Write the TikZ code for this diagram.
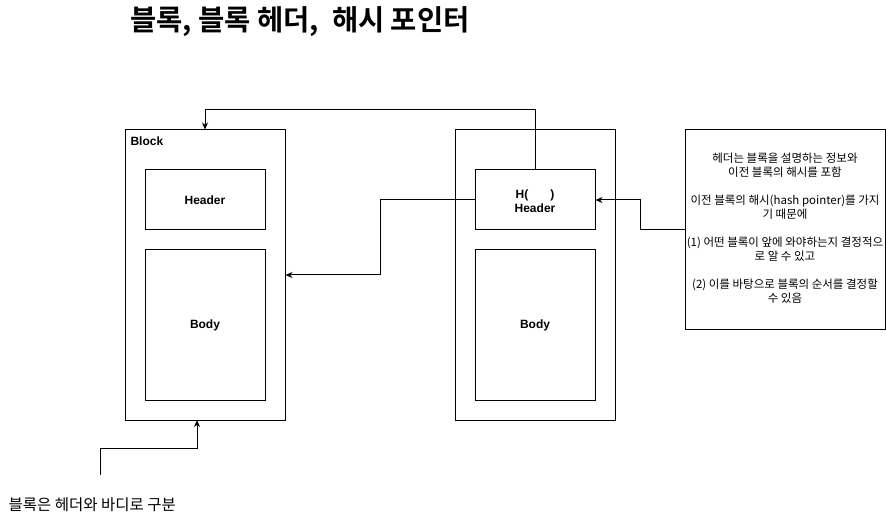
\documentclass[tikz,border=0pt]{standalone}
\usepackage{fontspec}
\setmainfont{Liberation Sans}
\newfontfamily\cjk{Noto Sans CJK KR}[BoldFont=* Bold]
\usetikzlibrary{arrows.meta}
\begin{document}
\begin{tikzpicture}[x=1pt,y=-1pt,
  lbl/.style={font=\bfseries\fontsize{12}{14}\selectfont,align=center},
  conn/.style={draw=black,line width=1pt,-{Stealth[length=7pt,width=6pt]}}]
\useasboundingbox (0,0) rectangle (886,526);
% title
\node[font=\cjk\bfseries\fontsize{28.5}{32}\selectfont] (title) at (300,22) {블록, 블록 헤더,\ \ 해시 포인터};
% block 1
\node[draw,line width=1pt,minimum width=160pt,minimum height=290pt,inner sep=0] (b1) at (205,275) {};
\node[lbl,anchor=west] (b1l) at (127,141) {Block};
\node[draw,line width=1pt,minimum width=120pt,minimum height=60pt,inner sep=0,lbl] (h1) at (205,200) {Header};
\node[draw,line width=1pt,minimum width=120pt,minimum height=150pt,inner sep=0,lbl] (bd1) at (205,325) {Body};
% block 2
\node[draw,line width=1pt,minimum width=160pt,minimum height=290pt,inner sep=0] (b2) at (535,275) {};
\node[draw,line width=1pt,minimum width=120pt,minimum height=60pt,inner sep=0] (h2) at (535,200) {};
\node[lbl] (h2t) at (535,201) {H(\hspace{22pt})\\Header};
\node[draw,line width=1pt,minimum width=120pt,minimum height=150pt,inner sep=0,lbl] (bd2) at (535,325) {Body};
% note
\node[draw,line width=1pt,minimum width=200pt,minimum height=200pt,inner sep=0] (note) at (785,230) {};
\node[font=\cjk\fontsize{11.5}{14}\selectfont,align=center] (nt) at (785,228) {헤더는 블록을 설명하는 정보와\\이전 블록의 해시를 포함\\[14pt]이전 블록의 해시(hash pointer)를 가지\\기 때문에\\[14pt](1) 어떤 블록이 앞에 와야하는지 결정적으\\로 알 수 있고\\[14pt](2) 이를 바탕으로 블록의 순서를 결정할\\수 있음};
% bottom label
\node[font=\cjk\fontsize{15.5}{18}\selectfont,anchor=west] (bl) at (5,505) {블록은 헤더와 바디로 구분};
\coordinate (bs) at (100,475);
% connectors
\draw[conn] (h2.north) -- (535,110) -- (205,110) -- (b1.north);
\draw[conn] (h2.west) -- (380,200) -- (380,275) -- (b1.east);
\draw[conn] (note.west) -- (640,230) -- (640,200) -- (h2.east);
\draw[conn] (bs) -- (100,448) -- (197,448) -- (197,420);
\end{tikzpicture}
\end{document}
